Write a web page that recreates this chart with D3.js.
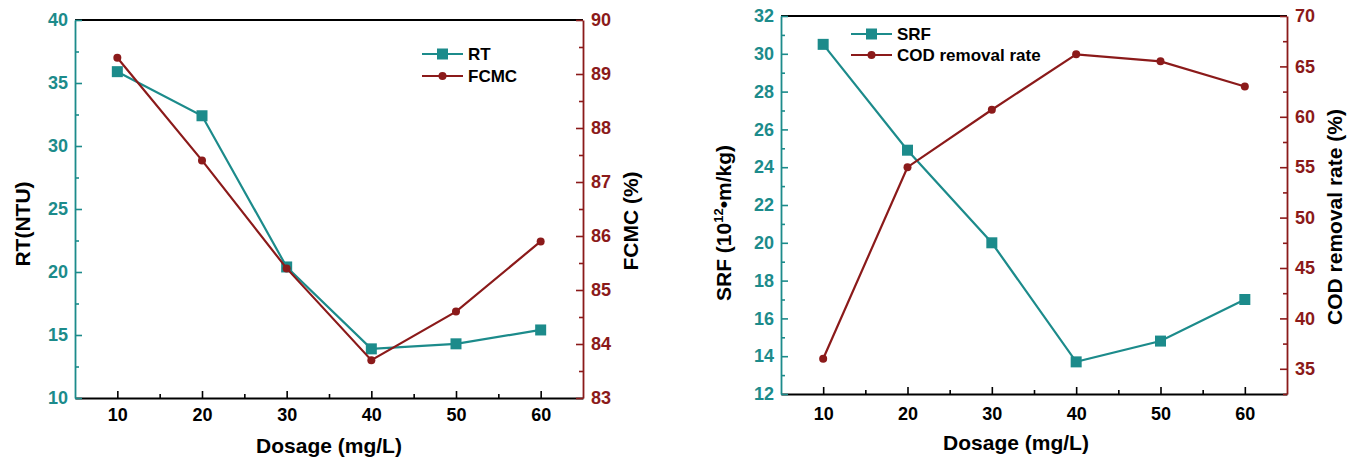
<!DOCTYPE html>
<html>
<head>
<meta charset="utf-8">
<script src="https://cdn.jsdelivr.net/npm/d3@7"></script>
<style>
  body{margin:0;background:#fff;}
  text{font-family:"Liberation Sans",Arial,sans-serif;font-weight:bold;}
</style>
</head>
<body>
<svg id="chart" width="1357" height="461"></svg>
<script>
// values
var dosage = [10, 20, 30, 40, 50, 60];
var rtValues = [35.9, 32.4, 20.4, 13.9, 14.3, 15.4];
var fcmcValues = [89.3, 87.4, 85.4, 83.7, 84.6, 85.9];
var srfValues = [30.5, 24.9, 20.0, 13.7, 14.8, 17.0];
var codValues = [36.0, 55.0, 60.7, 66.2, 65.5, 63.0];

var dosageTicks = [10, 20, 30, 40, 50, 60];
var rtTicks = [10, 15, 20, 25, 30, 35, 40];
var fcmcTicks = [83, 84, 85, 86, 87, 88, 89, 90];
var srfTicks = [12, 14, 16, 18, 20, 22, 24, 26, 28, 30, 32];
var codTicks = [35, 40, 45, 50, 55, 60, 65, 70];

var TEAL = "#1c8b8b", RED = "#8b1a1a";
var svg = d3.select("#chart");
var fmt = d3.format("d");

var panels = [
  {x0:75, x1:583, y0:20, y1:398, xLabelPad:10, titleX:329, titleY:453,
   left:{vals:rtValues, dom:[10,40], ticks:rtTicks, name:"RT", title:"RT(NTU)", tx:23, ty:224},
   right:{vals:fcmcValues, dom:[83,90], ticks:fcmcTicks, name:"FCMC", title:"FCMC (%)", tx:631, ty:221},
   legend:{x:422, y:54, gap:22}},
  {x0:781, x1:1287, y0:16, y1:394, xLabelPad:13, titleX:1016, titleY:450,
   left:{vals:srfValues, dom:[12,32], ticks:srfTicks, name:"SRF", title:"SRF", tx:724, ty:223},
   right:{vals:codValues, dom:[32.5,70], ticks:codTicks, name:"COD removal rate", title:"COD removal rate (%)", tx:1335, ty:217},
   legend:{x:851, y:34, gap:21}}
];

function midpoints(t){
  var r = [];
  for(var i=0;i<t.length-1;i++) r.push((t[i]+t[i+1])/2);
  return r;
}

function styleAxis(g, color){
  g.selectAll("path").attr("stroke", color).attr("stroke-width", 1.8);
  g.selectAll("line").attr("stroke", color).attr("stroke-width", 1.6);
  g.selectAll("text").attr("fill", color).attr("font-size", 18);
}

function drawPanel(p){
  var x = d3.scaleLinear().domain([5,65]).range([p.x0,p.x1]);
  var yl = d3.scaleLinear().domain(p.left.dom).range([p.y1,p.y0]);
  var yr = d3.scaleLinear().domain(p.right.dom).range([p.y1,p.y0]);

  // top frame
  svg.append("line").attr("x1",p.x0).attr("x2",p.x1).attr("y1",p.y0).attr("y2",p.y0)
     .attr("stroke","#000").attr("stroke-width",1.8);

  // x axis
  var gx = svg.append("g").attr("transform",`translate(0 ${p.y1})`)
     .call(d3.axisBottom(x).tickValues(dosageTicks).tickFormat(fmt).tickSize(-7).tickSizeOuter(0).tickPadding(p.xLabelPad));
  styleAxis(gx, "#000");
  svg.append("g").attr("transform",`translate(0 ${p.y1})`)
     .call(d3.axisBottom(x).tickValues(midpoints(dosageTicks)).tickSize(-4).tickFormat(""))
     .call(g=>g.select(".domain").remove())
     .call(g=>styleAxis(g,"#000"));

  // left y axis
  var gl = svg.append("g").attr("transform",`translate(${p.x0} 0)`)
     .call(d3.axisLeft(yl).tickValues(p.left.ticks).tickFormat(fmt).tickSize(-7).tickSizeOuter(0).tickPadding(7));
  styleAxis(gl, TEAL);
  svg.append("g").attr("transform",`translate(${p.x0} 0)`)
     .call(d3.axisLeft(yl).tickValues(midpoints(p.left.ticks)).tickSize(-4).tickFormat(""))
     .call(g=>g.select(".domain").remove())
     .call(g=>styleAxis(g,TEAL));

  // right y axis
  var rMinor = midpoints(p.right.ticks).concat(p.right.dom[0] < p.right.ticks[0]-2 ? [p.right.ticks[0]-2.5] : []);
  var gr = svg.append("g").attr("transform",`translate(${p.x1} 0)`)
     .call(d3.axisRight(yr).tickValues(p.right.ticks).tickFormat(fmt).tickSize(-7).tickSizeOuter(0).tickPadding(8));
  styleAxis(gr, RED);
  svg.append("g").attr("transform",`translate(${p.x1} 0)`)
     .call(d3.axisRight(yr).tickValues(rMinor).tickSize(-4).tickFormat(""))
     .call(g=>g.select(".domain").remove())
     .call(g=>styleAxis(g,RED));

  // axis titles
  svg.append("text").attr("x",p.titleX).attr("y",p.titleY).attr("text-anchor","middle")
     .attr("font-size",21).attr("fill","#000").text("Dosage (mg/L)");

  var tl = svg.append("text").attr("transform",`translate(${p.left.tx} ${p.left.ty}) rotate(-90)`)
     .attr("text-anchor","middle").attr("dy","0.35em").attr("font-size",21).attr("fill","#000");
  if(p.left.title=="SRF"){
    tl.append("tspan").text("SRF (10");
    tl.append("tspan").attr("font-size",13).attr("dy",-8).text("12");
    tl.append("tspan").attr("dy",8).text("\u2022m/kg)");
  } else tl.text(p.left.title);

  svg.append("text").attr("transform",`translate(${p.right.tx} ${p.right.ty}) rotate(-90)`)
     .attr("text-anchor","middle").attr("dy","0.35em").attr("font-size",21).attr("fill","#000")
     .text(p.right.title);

  // series
  var lineL = d3.line().x((d,i)=>x(dosage[i])).y(d=>yl(d));
  var lineR = d3.line().x((d,i)=>x(dosage[i])).y(d=>yr(d));

  svg.append("path").datum(p.left.vals).attr("d",lineL)
     .attr("fill","none").attr("stroke",TEAL).attr("stroke-width",2.2);
  svg.append("g").selectAll("rect").data(p.left.vals).join("rect")
     .attr("x",(d,i)=>x(dosage[i])-5.5).attr("y",d=>yl(d)-5.5)
     .attr("width",11).attr("height",11).attr("fill",TEAL);

  svg.append("path").datum(p.right.vals).attr("d",lineR)
     .attr("fill","none").attr("stroke",RED).attr("stroke-width",2.2);
  svg.append("g").selectAll("circle").data(p.right.vals).join("circle")
     .attr("cx",(d,i)=>x(dosage[i])).attr("cy",d=>yr(d))
     .attr("r",4).attr("fill",RED);

  // legend
  var lg = p.legend;
  var rows = [{name:p.left.name, color:TEAL, mark:"rect"},{name:p.right.name, color:RED, mark:"circle"}];
  rows.forEach((r,i)=>{
    var yy = lg.y + i*lg.gap;
    svg.append("line").attr("x1",lg.x).attr("x2",lg.x+41).attr("y1",yy).attr("y2",yy)
       .attr("stroke",r.color).attr("stroke-width",2.2);
    if(r.mark=="rect")
      svg.append("rect").attr("x",lg.x+20.5-5.5).attr("y",yy-5.5).attr("width",11).attr("height",11).attr("fill",r.color);
    else
      svg.append("circle").attr("cx",lg.x+20.5).attr("cy",yy).attr("r",4).attr("fill",r.color);
    svg.append("text").attr("x",lg.x+46).attr("y",yy).attr("dy","0.36em")
       .attr("font-size",17).attr("fill","#000").text(r.name);
  });
}

panels.forEach(drawPanel);
</script>
</body>
</html>
